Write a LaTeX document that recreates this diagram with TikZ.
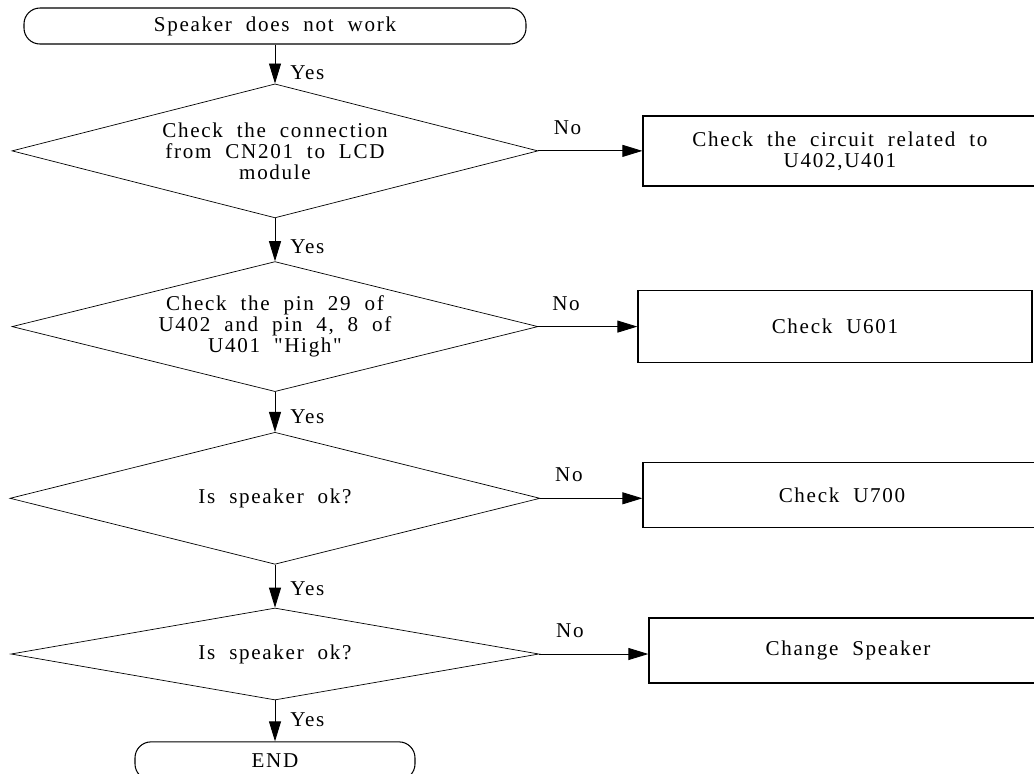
\documentclass[tikz,border=0pt]{standalone}
\usepackage{fontspec}
\setmainfont{Liberation Serif}[LetterSpace=8, WordSpace=2, Ligatures=TeXOff]
\usetikzlibrary{arrows.meta, shapes.geometric, positioning}

\begin{document}
\begin{tikzpicture}[
  every node/.style={font=\fontsize{12}{12}\selectfont},
  term/.style={rectangle, draw, rounded corners=0.32cm, line width=0.6pt,
               minimum height=0.72cm, align=center, inner sep=0pt},
  decision/.style={diamond, draw, line width=0.4pt, inner sep=0pt,
                   aspect=4, minimum width=10.52cm, align=center},
  box/.style={rectangle, draw, line width=0.7pt, minimum width=7.9cm,
              align=center, inner sep=0pt},
  arrow/.style={-{Triangle[length=0.4cm, width=0.24cm]}, line width=0.5pt},
  yes/.style={right=0.18cm},
  no/.style={pos=0.28, above=0.2cm},
]
  \useasboundingbox (0,0) rectangle (20.68,-15.46);

  \node[term, minimum width=10.04cm] (start) at (5.5,-0.52) {Speaker does not work};
  \node[decision, minimum height=2.68cm, below=0.78cm of start] (conn)
    {Check the connection\\from CN201 to LCD\\module};
  \node[decision, minimum height=2.6cm, below=0.86cm of conn] (pin)
    {Check the pin 29 of\\U402 and pin 4, 8 of\\U401 "High"};
  \node[decision, minimum height=2.64cm, minimum width=10.6cm, below=0.8cm of pin] (spkA)
    {Is speaker ok?};
  \node[decision, aspect=5.7, minimum height=1.84cm, minimum width=10.56cm, below=0.86cm of spkA] (spkB)
    {Is speaker ok?};
  \node[term, minimum width=5.6cm, minimum height=0.76cm, below=0.82cm of spkB] (end) {END};

  \node[box, minimum width=7.88cm, minimum height=1.4cm, right=2.08cm of conn] (circ)
    {Check the circuit related to\\U402,U401};
  \node[box, minimum width=7.88cm, minimum height=1.44cm, right=1.98cm of pin] (u601) {Check U601};
  \node[box, minimum width=7.96cm, minimum height=1.3cm, right=2.04cm of spkA, yshift=0.07cm] (u700) {Check U700};
  \node[box, minimum width=7.96cm, minimum height=1.3cm, right=2.18cm of spkB, yshift=0.07cm] (chg) {Change Speaker};

  \draw[arrow] (start) -- node[yes, pos=0.72] {Yes} (conn);
  \draw[arrow] (conn)  -- node[yes, pos=0.67] {Yes} (pin);
  \draw[arrow] (pin)   -- node[yes, pos=0.63] {Yes} (spkA);
  \draw[arrow] (spkA)  -- node[yes, pos=0.56] {Yes} (spkB);
  \draw[arrow] (spkB)  -- node[yes, pos=0.46] {Yes} (end);

  \draw[arrow] (conn.east) -- node[no] {No} (conn.east -| circ.west);
  \draw[arrow] (pin.east)  -- node[no] {No} (pin.east -| u601.west);
  \draw[arrow] (spkA.east) -- node[no] {No} (spkA.east -| u700.west);
  \draw[arrow] (spkB.east) -- node[no] {No} (spkB.east -| chg.west);
\end{tikzpicture}
\end{document}
